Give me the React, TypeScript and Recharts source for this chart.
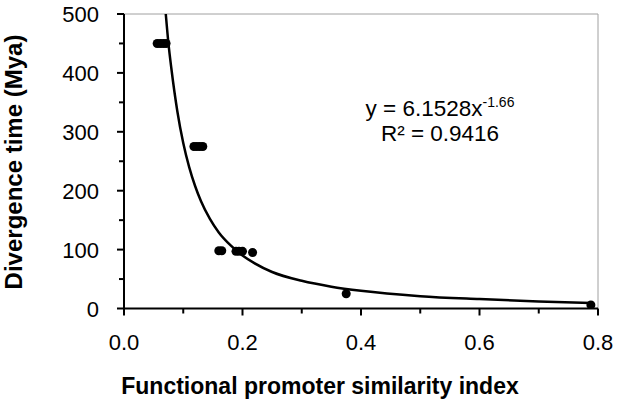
import {
  ComposedChart,
  Line,
  ReferenceLine,
  Scatter,
  XAxis,
  YAxis,
} from 'recharts'

// observed points (promoter similarity index vs divergence time)
const simIndex = [
  0.056, 0.061, 0.066, 0.071,
  0.118, 0.123, 0.128, 0.133,
  0.16, 0.165,
  0.189, 0.194, 0.2, 0.217,
  0.375, 0.788,
]
const divTime = [
  450, 450, 450, 450,
  275, 275, 275, 275,
  98, 98,
  97, 97, 97, 95,
  25, 6,
]

// power trendline
const trendX = [0.0705, 0.075, 0.08, 0.09, 0.1, 0.11, 0.12, 0.13, 0.145, 0.16, 0.18, 0.2, 0.22, 0.25, 0.3, 0.35, 0.4, 0.5, 0.6, 0.7, 0.788]
const trendY = [500, 450, 407, 335, 281, 240, 208, 182, 152, 129, 107, 90, 77, 62, 47, 37, 30, 21, 16, 12, 9.5]

const xTicks = [0, 0.1, 0.2, 0.3, 0.4, 0.5, 0.6, 0.7, 0.8]
const yTicks = [0, 50, 100, 150, 200, 250, 300, 350, 400, 450, 500]

const equation = 'y = 6.1528x'
const exponent = '-1.66'
const rSquared = 'R\u00b2 = 0.9416'
const xTitle = 'Functional promoter similarity index'
const yTitle = 'Divergence time (Mya)'

const points = simIndex.map((x, i) => ({ x, y: divTime[i] }))
const trend = trendX.map((x, i) => ({ x, y: trendY[i] }))

const font = '"Liberation Sans", Arial, sans-serif'

const XTick = (props: any) => {
  const { x, y, payload } = props
  const major = Math.round(payload.value * 10) % 2 === 0
  return (
    <g>
      <line x1={x} x2={x} y1={y} y2={y + (major ? 7 : 5)} stroke="#000" strokeWidth={2} />
      {major && (
        <text x={x} y={y + 41.5} textAnchor="middle" fontSize={22} fontFamily={font} fill="#000">
          {payload.value.toFixed(1)}
        </text>
      )}
    </g>
  )
}

const YTick = (props: any) => {
  const { x, y, payload } = props
  const major = payload.value % 100 === 0
  return (
    <g>
      <line x1={x} x2={x - (major ? 7 : 5)} y1={y} y2={y} stroke="#000" strokeWidth={2} />
      {major && (
        <text x={x - 25} y={y + 8} textAnchor="end" fontSize={22} fontFamily={font} fill="#000">
          {payload.value}
        </text>
      )}
    </g>
  )
}

const Dot = (props: any) => <circle cx={props.cx} cy={props.cy} r={4.5} fill="#000" />

export default function App() {
  return (
    <div style={{ position: 'absolute', left: 0, top: 0, width: 629, height: 404, background: '#fff' }}>
      <ComposedChart width={629} height={404} margin={{ top: 14, right: 31, bottom: 0, left: 0 }}>
        <XAxis
          type="number"
          dataKey="x"
          domain={[0, 0.8]}
          ticks={xTicks}
          interval={0}
          height={95.5}
          tickSize={0}
          tickMargin={0}
          tickLine={false}
          tick={<XTick />}
          axisLine={{ stroke: '#000', strokeWidth: 2 }}
        />
        <YAxis
          type="number"
          dataKey="y"
          domain={[0, 500]}
          ticks={yTicks}
          interval={0}
          width={124}
          allowDataOverflow
          tickSize={0}
          tickMargin={0}
          tickLine={false}
          tick={<YTick />}
          axisLine={{ stroke: '#000', strokeWidth: 2 }}
        />
        <ReferenceLine y={500} stroke="#a0a0a0" strokeWidth={1} />
        <ReferenceLine x={0.8} stroke="#a0a0a0" strokeWidth={1} />
        <Line
          data={trend}
          dataKey="y"
          type="monotone"
          stroke="#000"
          strokeWidth={2.5}
          dot={false}
          isAnimationActive={false}
        />
        <Scatter data={points} dataKey="y" shape={<Dot />} isAnimationActive={false} />
      </ComposedChart>
      <svg
        width={629}
        height={404}
        style={{ position: 'absolute', left: 0, top: 0, pointerEvents: 'none' }}
        fontFamily={font}
      >
        <text x={320} y={394} textAnchor="middle" fontSize={23} fontWeight="bold" fill="#000">
          {xTitle}
        </text>
        <text
          transform="translate(22,162) rotate(-90)"
          textAnchor="middle"
          fontSize={24}
          fontWeight="bold"
          fill="#000"
        >
          {yTitle}
        </text>
        <text x={440} y={116} textAnchor="middle" fontSize={22.5} fill="#000">
          {equation}
          <tspan dy={-9} fontSize={14}>
            {exponent}
          </tspan>
        </text>
        <text x={440} y={141} textAnchor="middle" fontSize={22.5} fill="#000">
          {rSquared}
        </text>
      </svg>
    </div>
  )
}
